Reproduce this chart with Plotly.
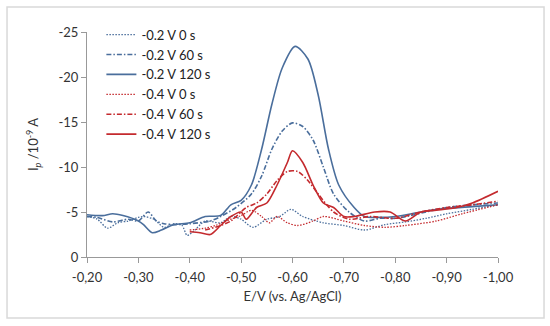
import plotly.graph_objects as go

# Potentials (V) and currents (1e-9 A)
b0_x = [-0.20, -0.22, -0.24, -0.26, -0.28, -0.30, -0.31, -0.33, -0.35, -0.37, -0.385, -0.395, -0.41, -0.43, -0.46, -0.48, -0.50, -0.523, -0.55, -0.575, -0.597, -0.62, -0.66, -0.70, -0.74, -0.78, -0.82, -0.86, -0.90, -0.95, -1.00]
b0_y = [-4.5, -4.2, -3.2, -3.8, -4.0, -4.4, -4.5, -4.2, -3.3, -3.7, -3.5, -2.4, -3.0, -4.0, -3.8, -4.5, -4.2, -3.3, -4.2, -4.5, -5.3, -4.5, -3.8, -3.5, -3.0, -3.6, -3.9, -4.3, -4.8, -5.3, -5.8]

b60_x = [-0.20, -0.22, -0.25, -0.28, -0.30, -0.319, -0.335, -0.35, -0.37, -0.40, -0.44, -0.46, -0.49, -0.52, -0.54, -0.56, -0.58, -0.60, -0.62, -0.64, -0.66, -0.68, -0.71, -0.74, -0.77, -0.80, -0.83, -0.86, -0.90, -0.95, -1.00]
b60_y = [-4.5, -4.4, -3.9, -4.2, -4.0, -5.0, -4.0, -3.7, -3.6, -3.7, -4.0, -4.5, -5.5, -7.0, -9.0, -12.0, -14.0, -14.9, -14.5, -13.0, -10.0, -7.0, -5.0, -4.0, -4.3, -4.3, -4.6, -5.0, -5.5, -5.8, -6.0]

b120_x = [-0.20, -0.23, -0.25, -0.27, -0.30, -0.31, -0.327, -0.345, -0.37, -0.40, -0.43, -0.46, -0.48, -0.50, -0.52, -0.54, -0.56, -0.58, -0.605, -0.63, -0.65, -0.67, -0.69, -0.72, -0.74, -0.77, -0.80, -0.85, -0.90, -0.95, -1.00]
b120_y = [-4.7, -4.6, -4.8, -4.6, -4.0, -3.6, -2.7, -3.0, -3.6, -3.8, -4.5, -4.6, -5.8, -6.3, -8.0, -12.0, -17.0, -21.0, -23.4, -22.0, -18.0, -12.0, -8.0, -5.5, -4.5, -4.4, -4.5, -5.0, -5.4, -5.6, -5.8]

r0_x = [-0.40, -0.43, -0.45, -0.48, -0.50, -0.52, -0.54, -0.555, -0.57, -0.59, -0.61, -0.64, -0.66, -0.70, -0.74, -0.78, -0.82, -0.88, -0.93, -1.00]
r0_y = [-3.0, -3.2, -3.5, -4.2, -4.6, -5.2, -4.5, -3.8, -4.5, -3.8, -3.5, -4.0, -4.5, -4.0, -3.5, -3.3, -3.5, -4.0, -4.8, -5.8]

r60_x = [-0.43, -0.46, -0.48, -0.51, -0.53, -0.55, -0.57, -0.59, -0.61, -0.63, -0.65, -0.68, -0.71, -0.75, -0.80, -0.85, -0.90, -0.95, -1.00]
r60_y = [-3.0, -3.5, -4.0, -5.5, -6.0, -7.0, -8.5, -9.5, -9.5, -8.5, -7.0, -5.0, -4.2, -4.5, -4.3, -5.0, -5.5, -5.8, -6.2]

r120_x = [-0.40, -0.42, -0.44, -0.46, -0.48, -0.50, -0.51, -0.53, -0.55, -0.57, -0.59, -0.60, -0.62, -0.64, -0.66, -0.68, -0.70, -0.72, -0.76, -0.79, -0.82, -0.85, -0.88, -0.92, -0.95, -1.00]
r120_y = [-2.8, -2.7, -2.5, -3.5, -4.5, -5.0, -4.2, -5.5, -6.0, -8.0, -10.5, -11.8, -10.5, -8.0, -6.0, -5.5, -4.5, -4.5, -5.0, -5.0, -4.0, -5.0, -5.2, -5.5, -6.0, -7.3]

x_ticks = [-0.2, -0.3, -0.4, -0.5, -0.6, -0.7, -0.8, -0.9, -1.0]
x_labels = ["-0,20", "-0,30", "-0,40", "-0,50", "-0,60", "-0,70", "-0,80", "-0,90", "-1,00"]
y_ticks = [0, -5, -10, -15, -20, -25]
y_labels = ["0", "-5", "-10", "-15", "-20", "-25"]

names = ["-0.2 V 0 s", "-0.2 V 60 s", "-0.2 V 120 s", "-0.4 V 0 s", "-0.4 V 60 s", "-0.4 V 120 s"]

BLUE = "#4A6E9C"
RED = "#C42A2E"
DASHDOT = "5px,2px,1.5px,2px"
DOT = "1.5px,1.5px"

series = [
    (b0_x, b0_y, BLUE, DOT, 1.3),
    (b60_x, b60_y, BLUE, DASHDOT, 1.6),
    (b120_x, b120_y, BLUE, "solid", 1.6),
    (r0_x, r0_y, RED, DOT, 1.3),
    (r60_x, r60_y, RED, DASHDOT, 1.6),
    (r120_x, r120_y, RED, "solid", 1.6),
]

fig = go.Figure()
for (xs, ys, col, dash, w), nm in zip(series, names):
    fig.add_trace(go.Scatter(
        x=xs, y=ys, name=nm, mode="lines",
        line=dict(color=col, width=w, dash=dash, shape="spline", smoothing=0.8),
    ))

FONT = "Lato, Open Sans, sans-serif"
axis_font = dict(family=FONT, size=13, color="#333333")

fig.update_layout(
    width=550, height=326,
    margin=dict(l=87, r=52, t=32, b=69, autoexpand=False),
    paper_bgcolor="white", plot_bgcolor="white",
    font=axis_font,
    showlegend=True,
    legend=dict(
        x=0.035, y=1.055, xanchor="left", yanchor="top",
        bgcolor="rgba(0,0,0,0)", font=dict(family=FONT, size=13, color="#222222"),
        tracegroupgap=0, itemwidth=30,
    ),
    xaxis=dict(
        range=[-0.2, -1.0], tickvals=x_ticks, ticktext=x_labels,
        showline=True, linecolor="#999999", linewidth=1,
        ticks="outside", ticklen=5, tickcolor="#999999",
        ticklabelstandoff=3,
        showgrid=False, zeroline=False,
        title=dict(text="E/V (vs. Ag/AgCl)", standoff=8, font=axis_font),
    ),
    yaxis=dict(
        range=[0, -25], tickvals=y_ticks, ticktext=y_labels,
        showline=True, linecolor="#999999", linewidth=1,
        ticks="outside", ticklen=5, tickcolor="#999999",
        showgrid=False, zeroline=False,
        title=dict(text="I<sub><i>p</i></sub> /10<sup>-9</sup> A", standoff=16, font=axis_font),
    ),
    shapes=[dict(
        type="rect", xref="paper", yref="paper",
        x0=-0.1946, x1=1.112, y0=-0.271, y1=1.111,
        line=dict(color="#D9D9D9", width=1.5), fillcolor="rgba(0,0,0,0)",
    )],
)

fig.write_html("out.html", config={"displayModeBar": False},
               post_script="document.body.style.margin='0';document.body.style.padding='0';")
